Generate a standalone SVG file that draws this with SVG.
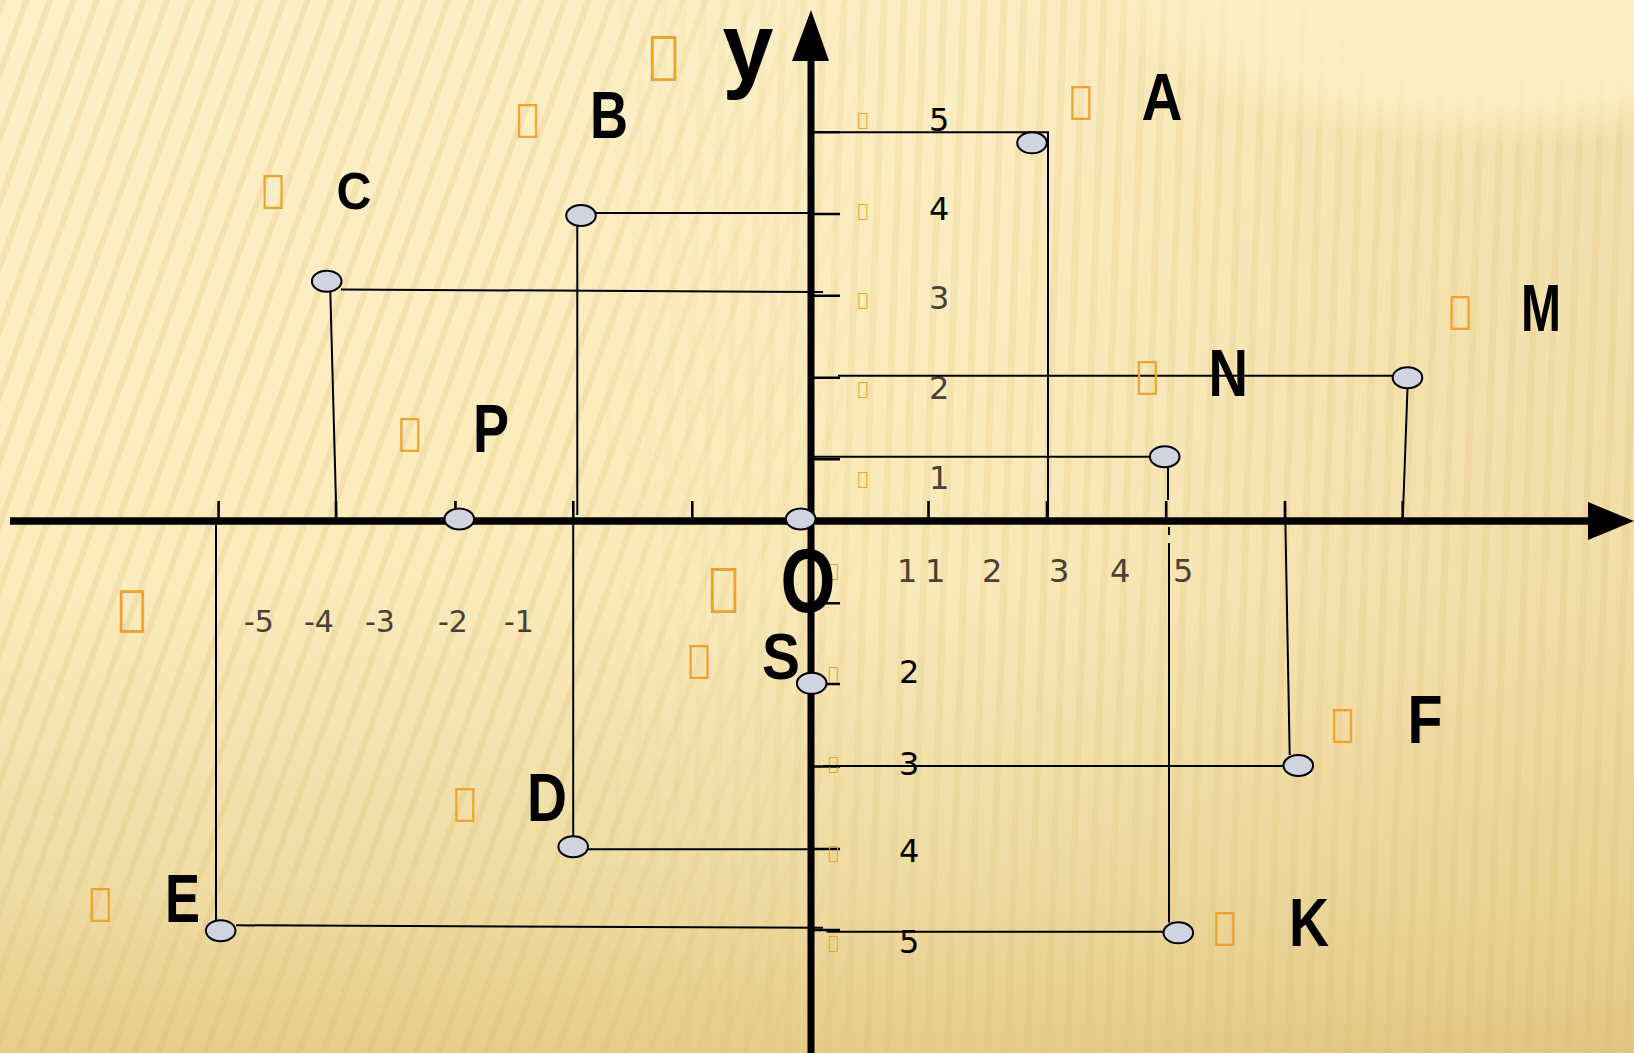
<svg xmlns="http://www.w3.org/2000/svg" width="1634" height="1053" viewBox="0 0 1634 1053">
<defs>
<linearGradient id="bgv" x1="0" y1="0" x2="0" y2="1">
<stop offset="0" stop-color="#fdf1c8"/>
<stop offset="0.55" stop-color="#fbecbd"/>
<stop offset="0.85" stop-color="#efdca4"/>
<stop offset="1" stop-color="#e6cd8a"/>
</linearGradient>
<linearGradient id="bgh" x1="0" y1="0" x2="1" y2="0">
<stop offset="0" stop-color="#d9b86a" stop-opacity="0"/>
<stop offset="0.6" stop-color="#d9b86a" stop-opacity="0.05"/>
<stop offset="1" stop-color="#d9b86a" stop-opacity="0.28"/>
</linearGradient>
<radialGradient id="tr" cx="1500" cy="-40" r="420" gradientUnits="userSpaceOnUse" gradientTransform="translate(1500,-40) scale(1,0.45) translate(-1500,40)">
<stop offset="0" stop-color="#fdf1c8" stop-opacity="0.95"/>
<stop offset="0.75" stop-color="#fdf1c8" stop-opacity="0.8"/>
<stop offset="1" stop-color="#fdf1c8" stop-opacity="0"/>
</radialGradient>
<pattern id="str1" width="22" height="22" patternUnits="userSpaceOnUse" patternTransform="rotate(20)">
<rect x="0" y="0" width="6" height="22" fill="#d8b565" fill-opacity="0.2"/>
</pattern>
<pattern id="str2" width="20" height="20" patternUnits="userSpaceOnUse" patternTransform="rotate(2)">
<rect x="0" y="0" width="7" height="20" fill="#d8b565" fill-opacity="0.16"/>
</pattern>
<linearGradient id="mg" x1="0" y1="0" x2="1" y2="0">
<stop offset="0" stop-color="#fff"/>
<stop offset="0.35" stop-color="#fff"/>
<stop offset="0.55" stop-color="#000"/>
</linearGradient>
<linearGradient id="mg2" x1="0" y1="0" x2="1" y2="0">
<stop offset="0.35" stop-color="#000"/>
<stop offset="0.55" stop-color="#fff"/>
</linearGradient>
<mask id="m1"><rect width="1634" height="1053" fill="url(#mg)"/></mask>
<mask id="m2"><rect width="1634" height="1053" fill="url(#mg2)"/></mask>
<style>
.ln{stroke:#000;stroke-width:2;fill:none}
.tk{stroke:#000;stroke-width:2.6;fill:none}
.pt{fill:#d0d4e0;stroke:#000;stroke-width:2}
.lbl{font-family:"Liberation Sans",Arial,sans-serif;font-weight:bold;fill:#000}
.tf{font-family:"DejaVu Sans",sans-serif;fill:#f0a22e;font-size:38px}
.tfb{font-size:51px}
.tfs{font-size:18px}
.num{font-family:"DejaVu Sans",sans-serif;font-size:32px}
.br{fill:#4a4036}
.bk{fill:#000}
</style>
</defs>
<g id="background">
<rect width="1634" height="1053" fill="url(#bgv)"/>
<rect width="1634" height="1053" fill="url(#bgh)"/>
<rect width="1634" height="1053" fill="url(#str1)" mask="url(#m1)"/>
<rect width="1634" height="1053" fill="url(#str2)" mask="url(#m2)"/>
<rect x="1000" y="0" width="634" height="260" fill="url(#tr)"/>
</g>
<g id="axes">
<line x1="10" y1="521" x2="1592" y2="521" stroke="#000" stroke-width="7.5"/>
<polygon points="1588,502 1634,521 1588,540" fill="#000"/>
<line x1="811" y1="1053" x2="811" y2="58" stroke="#000" stroke-width="7"/>
<polygon points="792,61 811,10 829,61" fill="#000"/>
</g>
<g id="ticks">
<path class="tk" d="M811,132.3H840M811,214H840M811,295.7H840M811,377.7H840M811,459.3H840"/>
<path class="tk" d="M811,603.3H840M811,684H840M811,766.5H840M811,849H840M811,930H840"/>
<path class="tk" d="M218.6,501V521M336,501V521M455.5,501V521M573.3,501V521M692.3,501V521M928.5,501V521M1047,501V521M1166.2,501V521M1285,501V521M1402.7,501V521"/>
</g>
<g id="tick-labels">
<text class="num bk" x="929" y="130.7">5</text>
<text class="num bk" x="929" y="220">4</text>
<text class="num br" x="929" y="309">3</text>
<text class="num br" x="929" y="399">2</text>
<text class="num br" x="929" y="488.7">1</text>
<text class="num br" x="897" y="581.5">1</text>
<text class="num bk" x="899" y="683.3">2</text>
<text class="num bk" x="899" y="774.5">3</text>
<text class="num bk" x="899" y="862.3">4</text>
<text class="num bk" x="899" y="952.7">5</text>
<text class="num br" x="925" y="581.5">1</text>
<text class="num br" x="982" y="581.5">2</text>
<text class="num br" x="1049" y="581.5">3</text>
<text class="num br" x="1110" y="581.5">4</text>
<text class="num br" x="1173" y="581.5">5</text>
<text class="num br" x="244" y="631.7" style="font-size:30px">-5</text>
<text class="num br" x="304" y="631.7" style="font-size:30px">-4</text>
<text class="num br" x="365" y="631.7" style="font-size:30px">-3</text>
<text class="num br" x="438" y="631.7" style="font-size:30px">-2</text>
<text class="num br" x="504" y="631.7" style="font-size:30px">-1</text>
<text class="tf tfs" x="857.5" y="126.4">&#xF0D8;</text>
<text class="tf tfs" x="857.5" y="217.1">&#xF0D8;</text>
<text class="tf tfs" x="857.5" y="306.1">&#xF0D8;</text>
<text class="tf tfs" x="857.5" y="395.4">&#xF0D8;</text>
<text class="tf tfs" x="857.5" y="485.4">&#xF0D8;</text>
<text class="tf tfs" x="828" y="577.1">&#xF0D8;</text>
<text class="tf tfs" x="828" y="679.6">&#xF0D8;</text>
<text class="tf tfs" x="828" y="769.8">&#xF0D8;</text>
<text class="tf tfs" x="828" y="858.8">&#xF0D8;</text>
<text class="tf tfs" x="828" y="948.8">&#xF0D8;</text>
</g>
<g id="connectors">
<path class="ln" d="M840,132.3H1048V521"/>
<path class="ln" d="M596,213H811M577.3,226V515"/>
<path class="ln" d="M341,289.5L823,292M330.3,291.5L336.5,521"/>
<path class="ln" d="M838,375.7H1392.6M1407.5,388L1402.7,521"/>
<path class="ln" d="M811,456.7H1150M1168,467V500M1169,527V535M1169,543V922.5"/>
<path class="ln" d="M823,766H1283.3M1285,502L1289.7,755"/>
<path class="ln" d="M826.7,931.7H1163.3"/>
<path class="ln" d="M588,849.3H811M573.2,836V521"/>
<path class="ln" d="M236,925.3L823,927.7M216,920V521"/>
</g>
<g id="node-y"><text class="tf tfb" x="648.5" y="71.8">&#xF0D8;</text><text class="lbl" x="722.5" y="80" font-size="96" textLength="51" lengthAdjust="spacingAndGlyphs">y</text></g>
<g id="node-A"><ellipse class="pt" cx="1032" cy="142.8" rx="14.8" ry="10.5"/><text class="tf" x="1069.5" y="113.2">&#xF0D8;</text><text class="lbl" x="1141.5" y="120" font-size="67.5" textLength="41" lengthAdjust="spacingAndGlyphs">A</text></g>
<g id="node-B"><ellipse class="pt" cx="581" cy="215.5" rx="14.8" ry="10.5"/><text class="tf" x="516.2" y="131.2">&#xF0D8;</text><text class="lbl" x="590" y="138" font-size="67" textLength="38" lengthAdjust="spacingAndGlyphs">B</text></g>
<g id="node-C"><ellipse class="pt" cx="326.7" cy="281.2" rx="14.8" ry="10.5"/><text class="tf" x="261.8" y="202.2">&#xF0D8;</text><text class="lbl" x="336.5" y="209.3" font-size="51" textLength="35" lengthAdjust="spacingAndGlyphs">C</text></g>
<g id="node-P"><ellipse class="pt" cx="459.3" cy="519" rx="14.8" ry="10.5"/><text class="tf" x="398.5" y="444.6">&#xF0D8;</text><text class="lbl" x="473" y="451.7" font-size="68" textLength="36" lengthAdjust="spacingAndGlyphs">P</text></g>
<g id="node-O"><ellipse class="pt" cx="800.7" cy="519" rx="14.8" ry="10.5"/><text class="tf tfb" x="708.5" y="604.1">&#xF0D8;</text><text class="lbl" x="780.5" y="611.7" font-size="90" textLength="55" lengthAdjust="spacingAndGlyphs">O</text></g>
<g id="node-M"><ellipse class="pt" cx="1407.5" cy="377.7" rx="14.8" ry="10.5"/><text class="tf" x="1448.8" y="323.2">&#xF0D8;</text><text class="lbl" x="1521" y="331" font-size="67" textLength="40" lengthAdjust="spacingAndGlyphs">M</text></g>
<g id="node-N"><ellipse class="pt" cx="1164.7" cy="456.7" rx="14.8" ry="10.5"/><text class="tf" x="1135.9" y="388.2">&#xF0D8;</text><text class="lbl" x="1208.5" y="396" font-size="67" textLength="39.5" lengthAdjust="spacingAndGlyphs">N</text></g>
<g id="node-left"><text class="tf" x="117.4" y="624" style="font-size:48px">&#xF0D8;</text></g>
<g id="node-S"><ellipse class="pt" cx="811.7" cy="683.3" rx="14.8" ry="10.5"/><text class="tf" x="687.7" y="672.2">&#xF0D8;</text><text class="lbl" x="762" y="678.5" font-size="65" textLength="38" lengthAdjust="spacingAndGlyphs">S</text></g>
<g id="node-F"><ellipse class="pt" cx="1298.3" cy="765.5" rx="14.8" ry="10.5"/><text class="tf" x="1331.2" y="735.6">&#xF0D8;</text><text class="lbl" x="1407.5" y="742.7" font-size="68" textLength="35" lengthAdjust="spacingAndGlyphs">F</text></g>
<g id="node-K"><ellipse class="pt" cx="1178.3" cy="932.8" rx="14.8" ry="10.5"/><text class="tf" x="1213.5" y="938.9">&#xF0D8;</text><text class="lbl" x="1289" y="946" font-size="68" textLength="40" lengthAdjust="spacingAndGlyphs">K</text></g>
<g id="node-D"><ellipse class="pt" cx="573.2" cy="846.7" rx="14.8" ry="10.5"/><text class="tf" x="453.5" y="814.6">&#xF0D8;</text><text class="lbl" x="527" y="821" font-size="68" textLength="40" lengthAdjust="spacingAndGlyphs">D</text></g>
<g id="node-E"><ellipse class="pt" cx="220.7" cy="930.7" rx="14.8" ry="10.5"/><text class="tf" x="89.1" y="914.6">&#xF0D8;</text><text class="lbl" x="165" y="921.7" font-size="68" textLength="35" lengthAdjust="spacingAndGlyphs">E</text></g>
</svg>
